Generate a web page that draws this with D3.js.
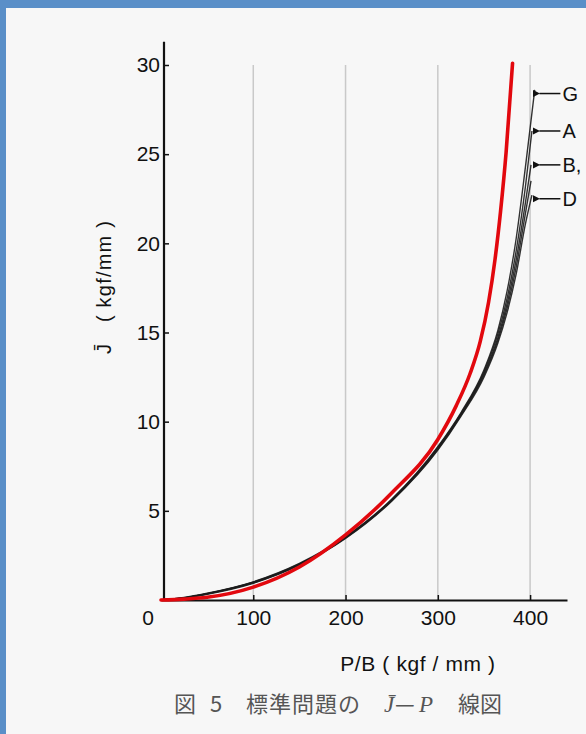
<!DOCTYPE html>
<html>
<head>
<meta charset="utf-8">
<script src="https://cdn.jsdelivr.net/npm/d3@7"></script>
<style>
  body { margin: 0; }
  svg { display: block; }
</style>
</head>
<body>
<div id="chart"></div>
<script>
// values: [P/B, J]
var redCurve = [[0,0],[25,0.05],[50,0.15],[100,0.72],[150,1.85],[200,3.65],[250,6.0],[300,9.0],[320,10.9],[335,12.7],[346,14.5],[355,16.7],[362,19.1],[368,21.8],[374,25.1],[381,30.1]];
var curveG = [[0,0],[25,0.14],[50,0.38],[100,1.02],[150,2.05],[200,3.55],[250,5.65],[300,8.6],[325,10.5],[350,12.9],[365,15.1],[375,17.3],[385,20.3],[395,24.3],[405,28.6]];
var curveA = [[0,0],[25,0.13],[50,0.36],[100,1.0],[150,2.02],[200,3.52],[250,5.62],[300,8.55],[325,10.45],[350,12.8],[365,14.9],[375,16.9],[385,19.6],[395,23.2],[402,26.3]];
var curveB = [[0,0],[25,0.12],[50,0.35],[100,0.98],[150,2.0],[200,3.5],[250,5.6],[300,8.5],[325,10.4],[350,12.7],[365,14.7],[375,16.6],[385,19.1],[395,22.3],[401,24.4]];
var curveC = [[0,0],[25,0.11],[50,0.34],[100,0.96],[150,1.98],[200,3.48],[250,5.57],[300,8.45],[325,10.35],[350,12.6],[365,14.55],[375,16.35],[385,18.7],[395,21.7],[401,23.5]];
var curveD = [[0,0],[25,0.1],[50,0.32],[100,0.94],[150,1.95],[200,3.45],[250,5.54],[300,8.4],[325,10.3],[350,12.5],[365,14.4],[375,16.1],[385,18.3],[395,21.1],[402,22.7]];

var xTicks = [100, 200, 300, 400];
var yTicks = [5, 10, 15, 20, 25, 30];
var labelNames = ["G", "A", "B,", "D"];
var labelJ = [28.4, 26.3, 24.4, 22.5];

var svgWidth = 586;
var svgHeight = 734;

var svg = d3.select("#chart")
  .append("svg")
  .attr("width", svgWidth)
  .attr("height", svgHeight);

// scanned page look: blue frame, off-white paper
svg.append("rect").attr("width", svgWidth).attr("height", svgHeight).attr("fill", "#5a8fc8");
svg.append("rect").attr("x", 6).attr("y", 8).attr("width", svgWidth - 6).attr("height", svgHeight - 8).attr("fill", "#f7f7f7");

var xScale = d3.scaleLinear().domain([0, 440]).range([161, 567]);
var yScale = d3.scaleLinear().domain([0, 30]).range([600, 65]);

var tickFont = "'Liberation Sans', Arial, sans-serif";

// vertical grid lines
svg.append("g")
  .selectAll("line")
  .data(xTicks)
  .enter()
  .append("line")
  .attr("x1", function(d) { return xScale(d); })
  .attr("x2", function(d) { return xScale(d); })
  .attr("y1", yScale(0))
  .attr("y2", yScale(30))
  .attr("stroke", "#c9c9c9")
  .attr("stroke-width", 1.5);

// x axis
var bottomAxis = d3.axisBottom(xScale)
  .tickValues(xTicks)
  .tickSize(-5)
  .tickSizeOuter(0)
  .tickPadding(10);

var xAxisG = svg.append("g")
  .attr("transform", `translate(0, ${yScale(0)})`)
  .call(bottomAxis);
xAxisG.select(".domain").attr("stroke", "#111").attr("stroke-width", 2.2);
xAxisG.selectAll(".tick line").attr("stroke", "#111").attr("stroke-width", 1.5);
xAxisG.selectAll(".tick text")
  .attr("font-family", tickFont)
  .attr("font-size", 21)
  .attr("fill", "#111");

// y axis
var leftAxis = d3.axisLeft(yScale)
  .tickValues(yTicks)
  .tickSize(-5)
  .tickSizeOuter(0)
  .tickPadding(4);

var yAxisG = svg.append("g")
  .attr("transform", `translate(${xScale(0) + 3}, 0)`)
  .call(leftAxis);
yAxisG.select(".domain").remove();
yAxisG.append("line")
  .attr("x1", 0).attr("x2", 0)
  .attr("y1", yScale(0)).attr("y2", yScale(31.3))
  .attr("stroke", "#111").attr("stroke-width", 2.2);
yAxisG.selectAll(".tick line").attr("stroke", "#111").attr("stroke-width", 1.5);
yAxisG.selectAll(".tick text")
  .attr("font-family", tickFont)
  .attr("font-size", 21)
  .attr("fill", "#111");

// shared origin label
svg.append("text")
  .attr("x", xScale(0) - 13)
  .attr("y", yScale(0) + 25)
  .attr("text-anchor", "middle")
  .attr("font-family", tickFont)
  .attr("font-size", 21)
  .attr("fill", "#111")
  .text("0");

// axis titles
svg.append("text")
  .attr("x", 418)
  .attr("y", 671)
  .attr("text-anchor", "middle")
  .attr("font-family", tickFont)
  .attr("font-size", 21)
  .attr("letter-spacing", 0.6)
  .attr("fill", "#111")
  .text("P/B ( kgf / mm )");

var yTitle = svg.append("text")
  .attr("transform", "translate(111, 0) rotate(-90)")
  .attr("font-family", tickFont)
  .attr("font-size", 20)
  .attr("fill", "#111");
yTitle.append("tspan").attr("x", -354).text("J\u0304");
yTitle.append("tspan").attr("x", -322).attr("letter-spacing", 1.2).text("( kgf/mm )");

// caption
var caption = svg.append("text")
  .attr("y", 712)
  .attr("font-family", "'Noto Sans CJK JP', sans-serif")
  .attr("font-size", 22)
  .attr("fill", "#555");
caption.append("tspan").attr("x", 174).text("図");
caption.append("tspan").attr("x", 210).text("5");
caption.append("tspan").attr("x", 246).attr("letter-spacing", 1).text("標準問題の");
caption.append("tspan").attr("x", 384).attr("font-family", "'Liberation Serif', serif").attr("font-style", "italic").attr("font-size", 23).text("J\u0304");
caption.append("tspan").attr("x", 395).text("\u2014");
caption.append("tspan").attr("x", 419).attr("font-family", "'Liberation Serif', serif").attr("font-style", "italic").attr("font-size", 23).text("P");
caption.append("tspan").attr("x", 458).text("線図");

// curves
var line = d3.line()
  .x(function(d) { return xScale(d[0]); })
  .y(function(d) { return yScale(d[1]); })
  .curve(d3.curveMonotoneX);

var blackCurves = [curveG, curveA, curveB, curveC, curveD];
svg.append("g")
  .selectAll("path")
  .data(blackCurves)
  .enter()
  .append("path")
  .attr("d", line)
  .attr("fill", "none")
  .attr("stroke", "#1c1c1c")
  .attr("stroke-width", 1.4)
  .attr("opacity", 0.9);

svg.append("path")
  .datum(redCurve)
  .attr("d", line)
  .attr("fill", "none")
  .attr("stroke", "#e2080e")
  .attr("stroke-width", 3.6)
  .attr("stroke-linecap", "round");

// end labels with arrows
svg.append("defs").append("marker")
  .attr("id", "arrowhead")
  .attr("viewBox", "0 0 10 10")
  .attr("refX", 1).attr("refY", 5)
  .attr("markerWidth", 5).attr("markerHeight", 5)
  .attr("orient", "auto-start-reverse")
  .append("path")
  .attr("d", "M0,5 L10,0 L10,10 Z")
  .attr("fill", "#111");

var labelG = svg.append("g")
  .selectAll("g")
  .data(labelNames)
  .enter()
  .append("g")
  .attr("transform", function(d, i) { return `translate(${xScale(409)}, ${yScale(labelJ[i])})`; });

labelG.append("line")
  .attr("x1", 1).attr("x2", 22)
  .attr("y1", 0).attr("y2", 0)
  .attr("stroke", "#111")
  .attr("stroke-width", 1.5)
  .attr("marker-start", "url(#arrowhead)");

labelG.append("text")
  .attr("x", 24)
  .attr("y", 7)
  .attr("font-family", tickFont)
  .attr("font-size", 20)
  .attr("fill", "#111")
  .text(function(d) { return d; });
</script>
</body>
</html>
